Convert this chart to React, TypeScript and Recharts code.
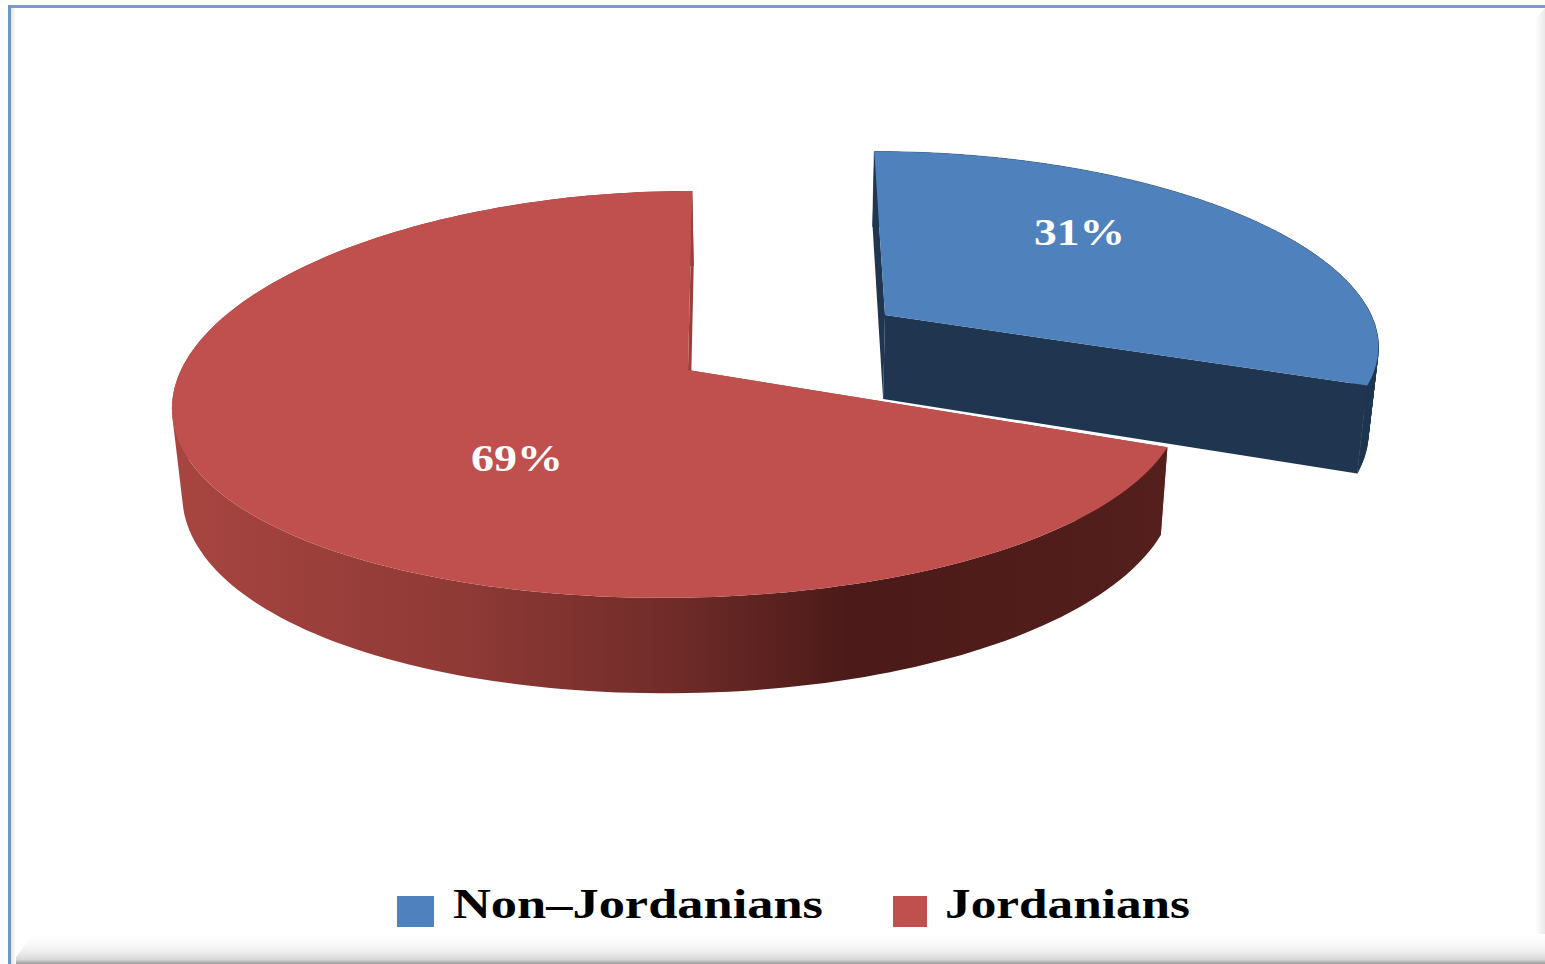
import { Legend, Pie, PieChart } from "recharts";

const categories = ["Non-Jordanians", "Jordanians"];
const shares = [31, 69];
const faceColors = ["#4f81bd", "#c0504d"];
const cutColors = ["#1f3550", "#9a3f3b"];
const legendText = ["Non\u2013Jordanians", "Jordanians"];

const tableRows = categories.map((name, i) => ({
  name,
  value: shares[i],
  fill: faceColors[i],
}));

// the 3d look: sectors come from the Pie, then get tilted with a small perspective
const BASE_VANISH_X = 775;
const PERSPECTIVE_X = 0.16;
const PERSPECTIVE_Y = 0.12;
const TILT = 0.4018;
const DEPTH = 84;
const BASE_SHRINK = 0.983;
const explode = [
  { dx: 197, dy: -55, scale: 0.986, tilt: 0.913, vanish: 845, rimShift: 6 },
  { dx: 0, dy: 0, scale: 1, tilt: 1, vanish: 769, rimShift: 8 },
];
const labelSpots = [
  { x: 1034, y: 245, w: 91 },
  { x: 471, y: 471, w: 92 },
];
const legendSpots = [
  { box: 397, boxW: 37, boxY: 26, boxH: 31, text: 453, textW: 370 },
  { box: 893, boxW: 34, boxY: 26, boxH: 31, text: 945, textW: 245 },
];

const project = (p: any, angle: number, r: number, base = false) => {
  const e = explode[p.index];
  const rad = (angle * Math.PI) / 180;
  const u = r * Math.cos(rad);
  const v = -r * Math.sin(rad);
  const fx = 1 / (1 - PERSPECTIVE_X * v);
  const fy = 1 / (1 - PERSPECTIVE_Y * v);
  const R = p.outerRadius;
  const centre = p.cx + e.dx - (r > 0 ? e.rimShift : 0);
  let x = e.vanish + (centre - e.vanish + R * e.scale * u) * fx;
  let y = p.cy + e.dy + R * TILT * e.tilt * v * fy;
  if (base) {
    x = BASE_VANISH_X + (x - BASE_VANISH_X) * BASE_SHRINK;
    y += DEPTH * fy;
  }
  return [x, y];
};

const toPath = (pts: number[][]) =>
  "M" + pts.map(([x, y]) => `${x.toFixed(1)},${y.toFixed(1)}`).join("L") + "Z";

// quads between the top rim and the bottom rim, all wound the same way
const sweepPath = (top: number[][], bottom: number[][]) => {
  let d = "";
  for (let i = 0; i < top.length - 1; i++) {
    const quad = [top[i], top[i + 1], bottom[i + 1], bottom[i]];
    let area = 0;
    quad.forEach(([x, y], j) => {
      const [nx, ny] = quad[(j + 1) % 4];
      area += x * ny - nx * y;
    });
    d += toPath(area < 0 ? quad.reverse() : quad);
  }
  return d;
};

function Sector3D(props: any) {
  const { startAngle, endAngle, fill } = props;
  const index = categories.indexOf(props.name);
  const p = { ...props, index };
  const steps = 180;
  const angles: number[] = [];
  for (let i = 0; i <= steps; i++) {
    angles.push(startAngle + ((endAngle - startAngle) * i) / steps);
  }
  const arcTop = angles.map((a) => project(p, a, 1));
  const arcBase = angles.map((a) => project(p, a, 1, true));
  const apexTop = project(p, 0, 0);
  const apexBase = project(p, 0, 0, true);
  const cut = cutColors[index];
  const wall = index === 1 ? "url(#redWall)" : cut;
  const lastTop = arcTop[arcTop.length - 1];
  const lastBase = arcBase[arcBase.length - 1];

  return (
    <g>
      <defs>
        <linearGradient id="redWall" gradientUnits="userSpaceOnUse" x1="170" x2="1170" y1="0" y2="0">
          <stop offset="0" stopColor="#a84541" />
          <stop offset="0.3" stopColor="#8e3935" />
          <stop offset="0.5" stopColor="#702c29" />
          <stop offset="0.68" stopColor="#4b1a18" />
          <stop offset="1" stopColor="#541f1c" />
        </linearGradient>
      </defs>
      <path d={toPath([arcTop[0], apexTop, apexBase, arcBase[0]])} fill={cut} stroke="none" />
      <path d={sweepPath(arcTop, arcBase)} fill={wall} stroke={index === 0 ? cut : "none"} strokeWidth={0.6} />
      <path d={toPath([lastTop, apexTop, apexBase, lastBase])} fill={cut} stroke="none" />
      <path d={toPath([apexTop, ...arcTop])} fill={fill} stroke="none" />
    </g>
  );
}

function SliceLabel(props: any) {
  const spot = labelSpots[props.index];
  return (
    <text
      x={spot.x}
      y={spot.y}
      textLength={spot.w}
      lengthAdjust="spacingAndGlyphs"
      fill="#ffffff"
      fontFamily="'Liberation Serif', serif"
      fontWeight={700}
      fontSize={38}
    >
      {`${Math.round(props.percent * 100)}%`}
    </text>
  );
}

function LegendRow({ payload }: any) {
  return (
    <svg width={1545} height={90} style={{ display: "block", overflow: "visible" }}>
      {(payload || []).map((item: any) => {
        const i = categories.indexOf(item.value);
        const s = legendSpots[i];
        return (
          <g key={item.value}>
            <rect x={s.box} y={s.boxY} width={s.boxW} height={s.boxH} fill={faceColors[i]} />
            <text
              x={s.text}
              y={48}
              textLength={s.textW}
              lengthAdjust="spacingAndGlyphs"
              fill="#000000"
              fontFamily="'Liberation Serif', serif"
              fontWeight={700}
              fontSize={42}
            >
              {legendText[i]}
            </text>
          </g>
        );
      })}
    </svg>
  );
}

const edge = (style: any) => <div style={{ position: "absolute", ...style }} />;

export default function App() {
  return (
    <div style={{ position: "fixed", left: 0, top: 0, width: 1545, height: 964, background: "#fff", overflow: "hidden" }}>
      {edge({ left: 0, top: 0, width: 1545, height: 5, background: "#fffffa" })}
      {edge({ left: 8, top: 5, width: 1537, height: 3, background: "#7f9cc6" })}
      {edge({
        right: 0,
        top: 8,
        width: 10,
        height: 956,
        background: "linear-gradient(to right, #ffffff, #eaeaea)",
        clipPath: "polygon(0 12px, 100% 0, 100% 100%, 0 100%)",
      })}
      {edge({
        left: 11,
        bottom: 0,
        width: 1534,
        height: 30,
        background: "linear-gradient(to bottom, #ffffff, #f8f8f8 35%, #eeeeee 60%, #d8d8d8 85%, #999999)",
        clipPath: "polygon(22px 0, 100% 0, 100% 100%, 0 100%)",
      })}
      {edge({ left: 11, top: 8, width: 5, height: 956, background: "linear-gradient(to right, #e4e4e4, #ffffff)" })}
      {edge({ left: 8, top: 5, width: 3, height: 959, background: "#6f94c8" })}
      <div style={{ position: "absolute", left: 0, top: 0 }}>
        <PieChart width={1545} height={964} margin={{ top: 0, right: 0, bottom: 0, left: 0 }}>
          <Pie
            data={tableRows}
            dataKey="value"
            nameKey="name"
            cx={688}
            cy={370}
            outerRadius={499}
            startAngle={90}
            endAngle={-270}
            paddingAngle={0}
            stroke="none"
            label={SliceLabel}
            labelLine={false}
            shape={Sector3D}
            activeShape={Sector3D}
            inactiveShape={Sector3D}
            isAnimationActive={false}
          />
          <Legend
            content={LegendRow}
            wrapperStyle={{ left: 0, top: 870, width: 1545, height: 90 }}
          />
        </PieChart>
      </div>
    </div>
  );
}
